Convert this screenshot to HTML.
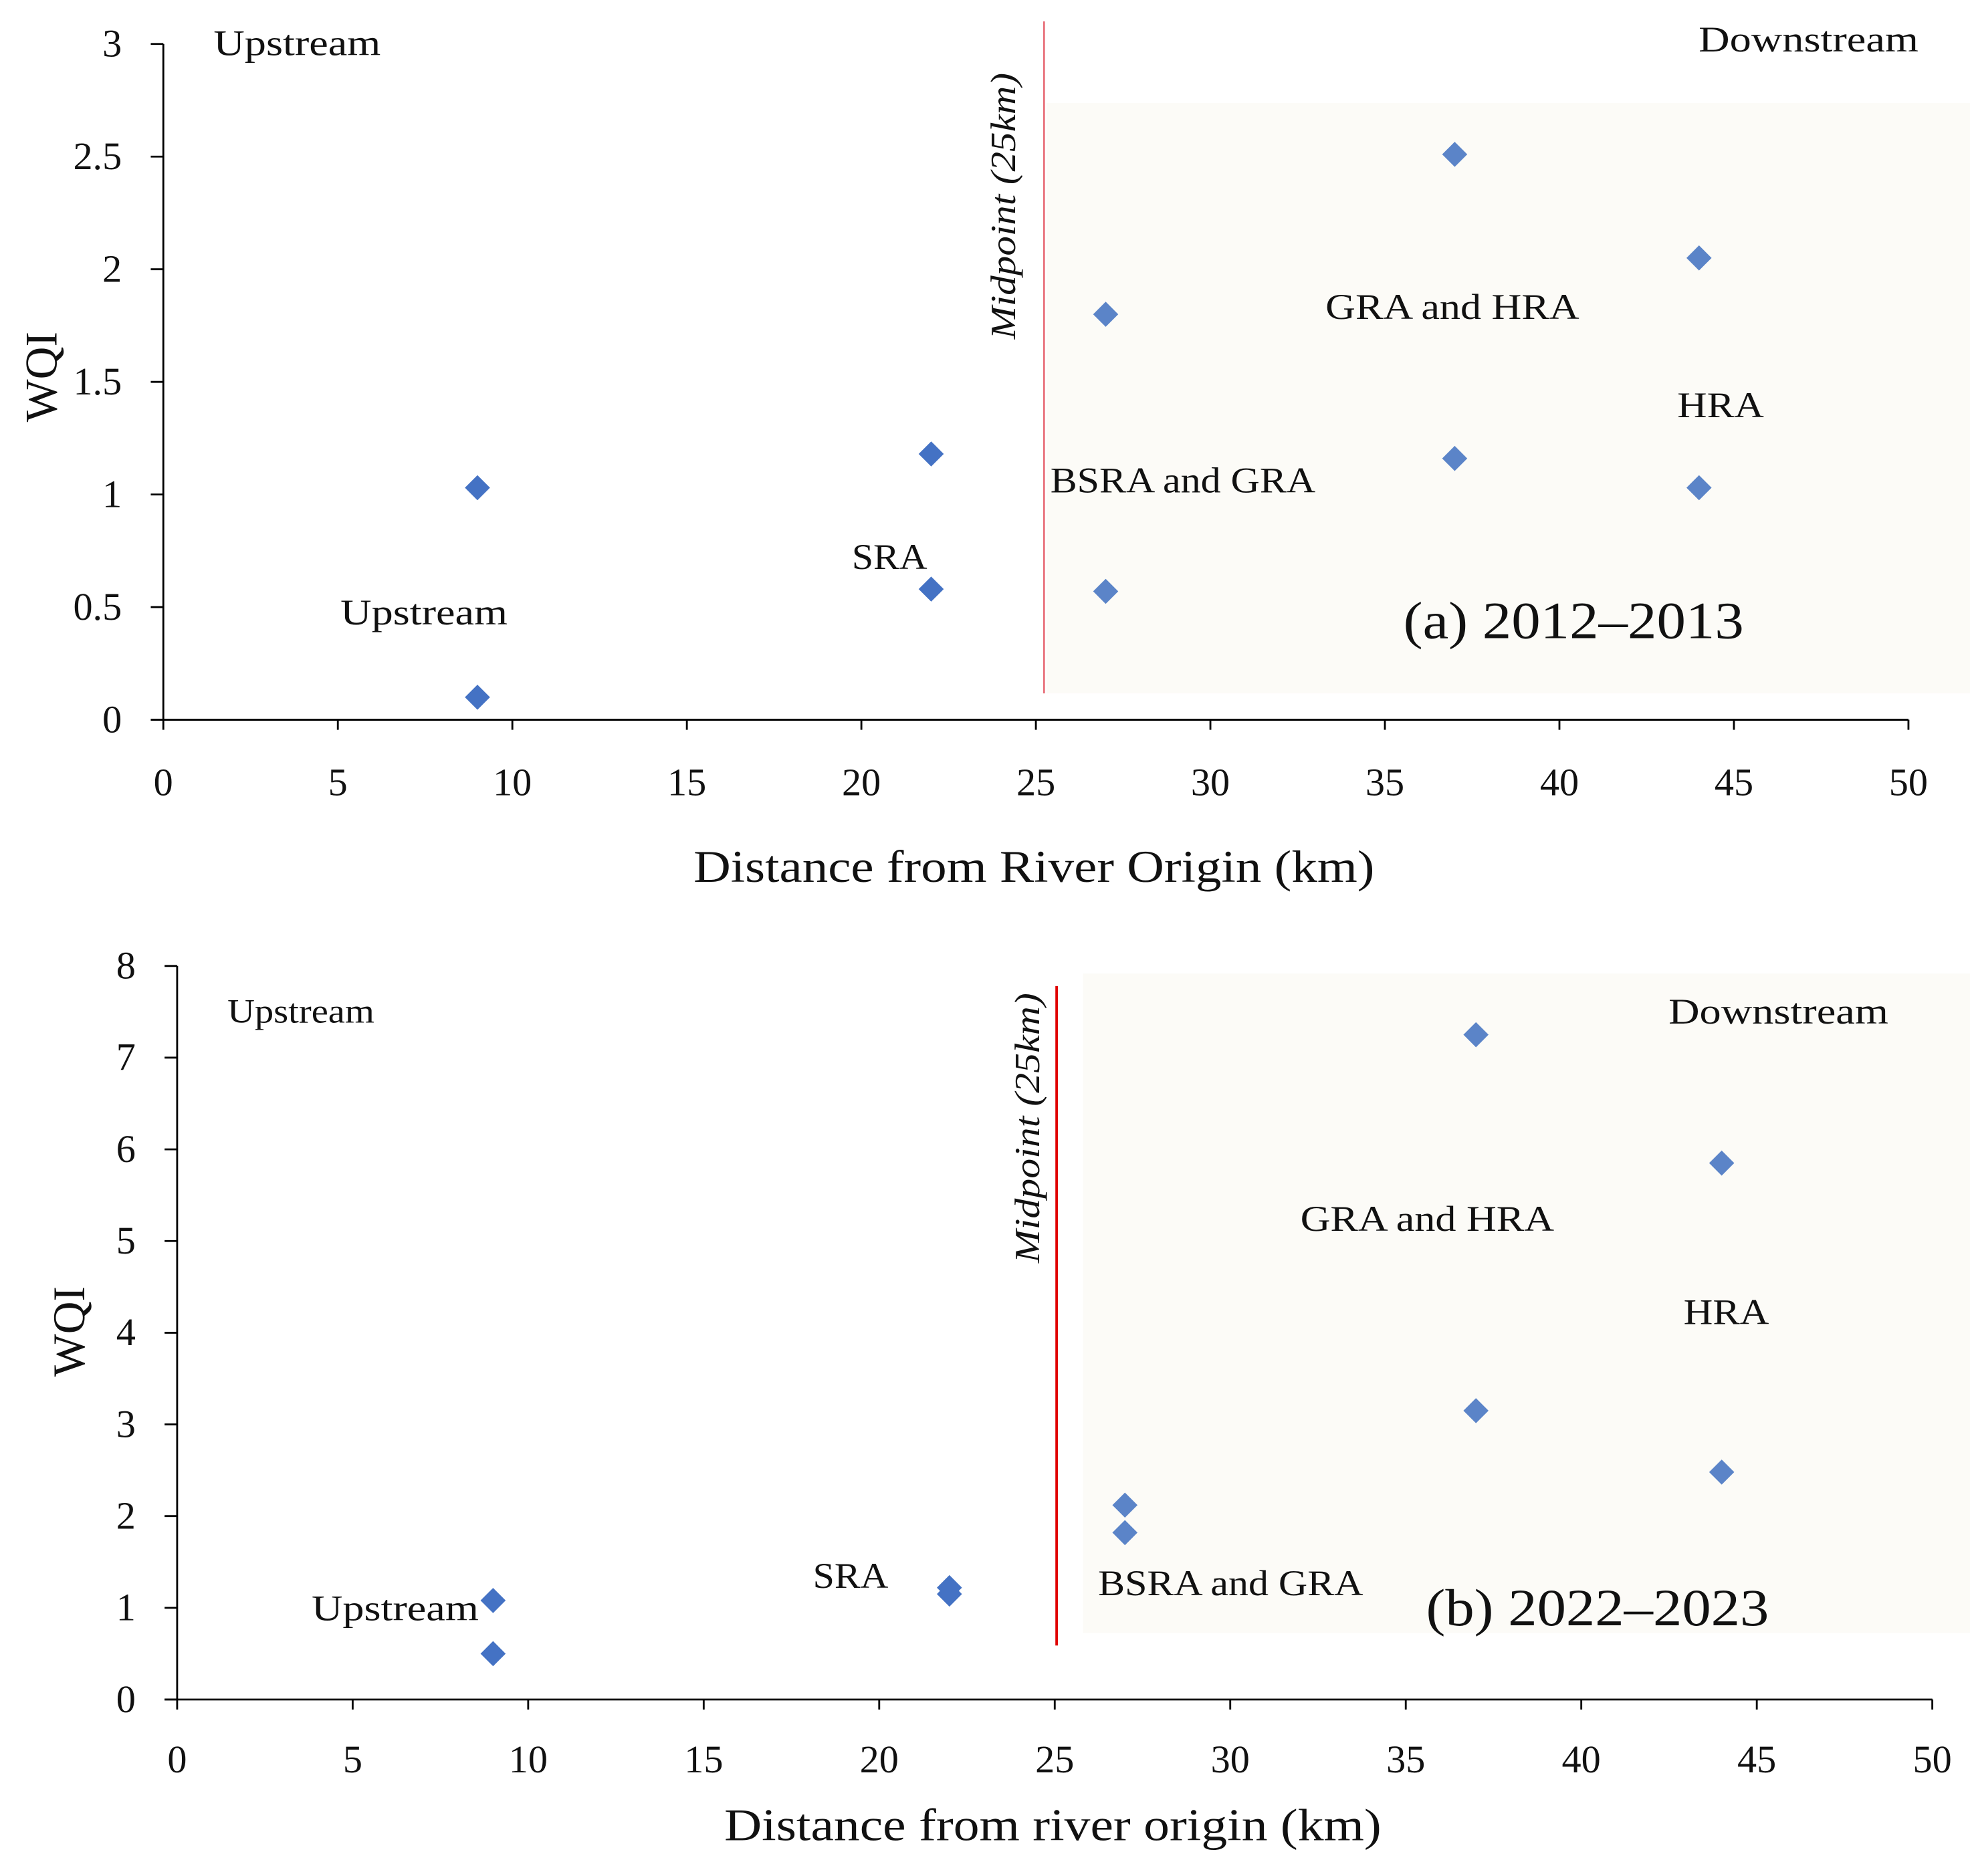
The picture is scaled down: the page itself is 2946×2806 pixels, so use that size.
<!DOCTYPE html>
<html><head><meta charset="utf-8"><style>
html,body{margin:0;padding:0;background:#fff}
svg{display:block}
text{font-family:"Liberation Serif",serif;fill:#111}
</style></head><body>
<svg id="chart" width="2946" height="2806" viewBox="0 0 1568 1493.5" preserveAspectRatio="none" xmlns="http://www.w3.org/2000/svg"></svg>
<script>
const xTicks=[0,5,10,15,20,25,30,35,40,45,50];
const yTicksA=[0,0.5,1,1.5,2,2.5,3];
const yTicksB=[0,1,2,3,4,5,6,7,8];
const distA=[9,9,22,22,27,27,37,37,44,44];
const wqiA=[1.03,0.1,1.18,0.58,1.8,0.57,2.51,1.16,2.05,1.03];
const distB=[9,9,22,22,27,27,37,37,44,44];
const wqiB=[1.08,0.5,1.22,1.15,2.12,1.82,7.25,3.15,5.85,2.48];
const svg=document.getElementById('chart');
const NS='http://www.w3.org/2000/svg';
function mk(t,a,txt){const e=document.createElementNS(NS,t);for(const k in a)e.setAttribute(k,a[k]);if(txt!==undefined)e.textContent=txt;svg.appendChild(e);return e;}
function panel(cfg){
  const sx=v=>cfg.x0+(v-0)/50*(cfg.x1-cfg.x0);
  const sy=v=>cfg.y0-(v/cfg.ymax)*(cfg.y0-cfg.y1);
  let e=mk('rect',{x:cfg.sh[0],y:cfg.sh[1],width:cfg.sh[2],height:cfg.sh[3],fill:'#fcfbf7'});
  
  e=mk('line',{x1:cfg.red[0],y1:cfg.red[1],x2:cfg.red[0],y2:cfg.red[2],stroke:cfg.redc,'stroke-width':cfg.redw});
  
  e=mk('text',{x:0,y:0,'font-size':cfg.midfs,'font-style':'italic','text-anchor':'middle',textLength:cfg.midlen,lengthAdjust:'spacingAndGlyphs',transform:`translate(${cfg.mid[0]},${cfg.mid[1]}) rotate(-90)`},'Midpoint (25km)');
  
  e=mk('line',{x1:cfg.x0,y1:cfg.y1,x2:cfg.x0,y2:cfg.y0,stroke:'#000','stroke-width':1.5});
  
  e=mk('line',{x1:cfg.x0-10,y1:cfg.y0,x2:cfg.x1,y2:cfg.y0,stroke:'#000','stroke-width':1.5});
  
  xTicks.forEach(v=>{
    mk('line',{x1:sx(v),y1:cfg.y0,x2:sx(v),y2:cfg.y0+8,stroke:'#000','stroke-width':1.5});
    e=mk('text',{x:sx(v),y:cfg.xly,'font-size':31,'text-anchor':'middle'},String(v));
    
  });
  cfg.yt.forEach(v=>{
    mk('line',{x1:cfg.x0-10,y1:sy(v),x2:cfg.x0,y2:sy(v),stroke:'#000','stroke-width':1.5});
    e=mk('text',{x:cfg.x0-33,y:sy(v)+10,'font-size':31,'text-anchor':'end'},String(v));
    
  });
  e=mk('text',{x:cfg.xt[0],y:cfg.xt[1],'font-size':36,'text-anchor':'middle',textLength:cfg.xtlen,lengthAdjust:'spacingAndGlyphs'},cfg.xtitle);
  
  e=mk('text',{x:0,y:0,'font-size':36,'text-anchor':'middle',transform:`translate(${cfg.yt2[0]},${cfg.yt2[1]}) rotate(-90)`},'WQI');
  
  cfg.labels.forEach(l=>{
    e=mk('text',{x:l[1],y:l[2],'font-size':l[3],textLength:l[4],lengthAdjust:'spacingAndGlyphs'},l[0]);
    
  });
  cfg.xs.forEach((d,i)=>{
    const cx=sx(d),cy=sy(cfg.ys[i]),r=10;
    e=mk('polygon',{points:`${cx},${cy-r} ${cx+r},${cy} ${cx},${cy+r} ${cx-r},${cy}`,fill:d>25?'#5b84c8':'#4472c4'});
    
  });
}
panel({id:'a',x0:130,x1:1519,y0:573,y1:35,ymax:3,yt:yTicksA,xs:distA,ys:wqiA,
  sh:[833,82,735,470],red:[831,17,552],redc:'#e8707a',redw:1.5,mid:[808,164],midfs:28,midlen:212,
  xly:633,xt:[823,702],xtlen:542,xtitle:'Distance from River Origin (km)',yt2:[45,300],
  labels:[['Upstream',170,44,29,133],['Downstream',1352,41,29,175],['GRA and HRA',1055,254,29,202],['HRA',1335,332,29,69],
  ['BSRA and GRA',836,392,29,211],['SRA',678,453,29,60],['Upstream',271,497,29,133],['(a) 2012–2013',1117,508,42,271]]});
panel({id:'b',x0:141,x1:1538,y0:1353,y1:769,ymax:8,yt:yTicksB,xs:distB,ys:wqiB,
  sh:[862,775,706,525],red:[841,785,1310],redc:'#e00000',redw:2,mid:[827,898],midfs:28,midlen:215,
  xly:1411,xt:[838,1465],xtlen:523,xtitle:'Distance from river origin (km)',yt2:[67,1060],
  labels:[['Upstream',181,814,27,117],['Downstream',1328,815,29,175],['GRA and HRA',1035,980,29,202],['HRA',1340,1054,29,68],
  ['BSRA and GRA',874,1270,29,211],['SRA',647,1264,29,60],['Upstream',248,1290,29,133],['(b) 2022–2023',1135,1294,42,273]]});
</script>
</body></html>
